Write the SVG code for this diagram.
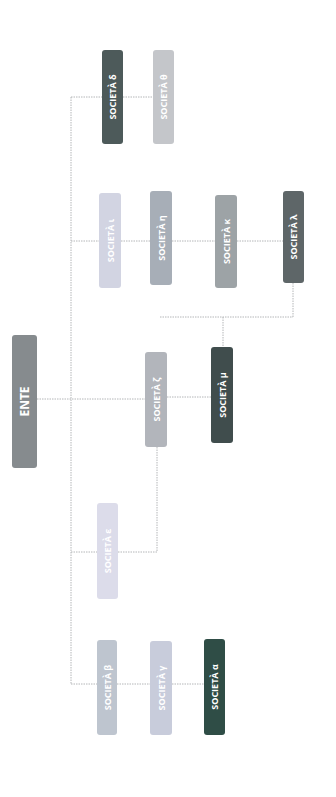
<svg xmlns="http://www.w3.org/2000/svg" width="336" height="797" viewBox="0 0 336 797">
<style>
.c{fill:none;stroke:#b4b6b8;stroke-width:1;stroke-dasharray:1.5 1}
.n rect{stroke:none}
.t{font-family:"Open Sans","Liberation Sans",sans-serif;font-weight:bold;font-size:9px;fill:#ffffff;text-anchor:middle;dominant-baseline:central}
</style>
<rect width="336" height="797" fill="#ffffff"/>
<g id="connectors">
<path class="c" d="M71 97V684"/>
<path class="c" d="M37 399H145"/>
<path class="c" d="M71 97H102M123 97H153"/>
<path class="c" d="M71 241H99M121 241H150M172 241H215M237 241H283"/>
<path class="c" d="M293 283V317M160 317H293M223 317V347"/>
<path class="c" d="M167 397H211"/>
<path class="c" d="M157 447V552H118"/>
<path class="c" d="M71 552H97"/>
<path class="c" d="M71 684H97M117 684H150M172 684H204"/>
</g>
<g id="ente" class="n"><rect x="12" y="335" width="25" height="133" rx="3" fill="#868b8e"/><text class="t" style="font-size:12px" transform="translate(24.5 401.5) rotate(-90)">ENTE</text></g>
<g id="societa-delta" class="n"><rect x="102" y="50" width="21" height="94" rx="3" fill="#4d5a5a"/><text class="t" transform="translate(112.5 97) rotate(-90)">SOCIETÀ δ</text></g>
<g id="societa-theta" class="n"><rect x="153" y="50" width="21" height="94" rx="3" fill="#c4c6ca"/><text class="t" transform="translate(163.5 97) rotate(-90)">SOCIETÀ θ</text></g>
<g id="societa-iota" class="n"><rect x="99" y="193" width="22" height="95" rx="3" fill="#d2d4e2"/><text class="t" transform="translate(110 240.5) rotate(-90)">SOCIETÀ ι</text></g>
<g id="societa-eta" class="n"><rect x="150" y="191" width="22" height="94" rx="3" fill="#a7aeb7"/><text class="t" transform="translate(161 238) rotate(-90)">SOCIETÀ η</text></g>
<g id="societa-kappa" class="n"><rect x="215" y="195" width="22" height="93" rx="3" fill="#9da3a6"/><text class="t" transform="translate(226 241.5) rotate(-90)">SOCIETÀ κ</text></g>
<g id="societa-lambda" class="n"><rect x="283" y="191" width="21" height="92" rx="3" fill="#5e6668"/><text class="t" transform="translate(293.5 237) rotate(-90)">SOCIETÀ λ</text></g>
<g id="societa-zeta" class="n"><rect x="145" y="352" width="22" height="95" rx="3" fill="#b2b5bb"/><text class="t" transform="translate(156 399.5) rotate(-90)">SOCIETÀ ζ</text></g>
<g id="societa-mu" class="n"><rect x="211" y="347" width="22" height="96" rx="3" fill="#404d4d"/><text class="t" transform="translate(222 395) rotate(-90)">SOCIETÀ μ</text></g>
<g id="societa-epsilon" class="n"><rect x="97" y="503" width="21" height="96" rx="3" fill="#dcdcea"/><text class="t" transform="translate(107.5 551) rotate(-90)">SOCIETÀ ε</text></g>
<g id="societa-beta" class="n"><rect x="97" y="640" width="20" height="95" rx="3" fill="#bec5cf"/><text class="t" transform="translate(107 687.5) rotate(-90)">SOCIETÀ β</text></g>
<g id="societa-gamma" class="n"><rect x="150" y="641" width="22" height="94" rx="3" fill="#c8ccdb"/><text class="t" transform="translate(161 688) rotate(-90)">SOCIETÀ γ</text></g>
<g id="societa-alpha" class="n"><rect x="204" y="639" width="21" height="96" rx="3" fill="#2f4d46"/><text class="t" transform="translate(214.5 687) rotate(-90)">SOCIETÀ α</text></g>
</svg>
